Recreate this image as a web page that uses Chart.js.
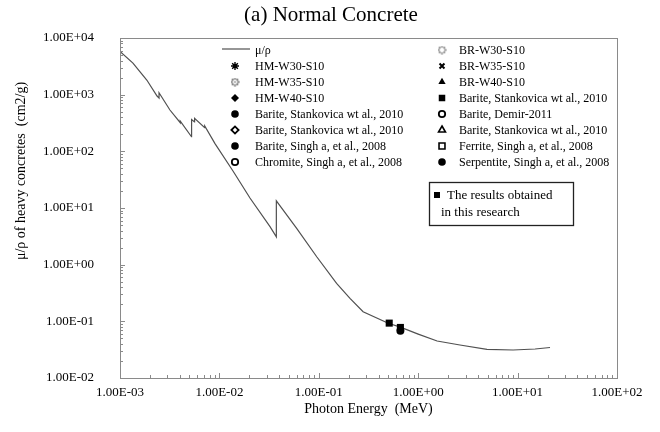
<!DOCTYPE html>
<html>
<head>
<meta charset="utf-8">
<script src="https://cdn.jsdelivr.net/npm/chart.js@4.4.1/dist/chart.umd.min.js"></script>
<style>
  html, body { margin: 0; padding: 0; background: #fff; }
</style>
</head>
<body>
<canvas id="myChart" width="660" height="432"></canvas>
<script>
// mass attenuation curve (MeV, cm2/g)
const energyMeV = [0.001, 0.00135, 0.00186, 0.00236, 0.00247, 0.00247, 0.00318, 0.00404, 0.00404,
  0.00524, 0.00525, 0.00562, 0.00563, 0.00711, 0.00712, 0.00903, 0.0137, 0.0203, 0.0323, 0.0374,
  0.0374, 0.0599, 0.0953, 0.151, 0.206, 0.279, 0.5, 0.662, 1.0, 1.55, 2.63, 4.92, 9.0, 15.0, 21.2];
const muRho = [5800, 3600, 1815, 946, 870, 1080, 536, 320, 342,
  181, 365, 330, 383, 262, 280, 137, 45, 15.0, 4.68, 3.1,
  13.4, 4.38, 1.38, 0.469, 0.255, 0.148, 0.0923, 0.079, 0.0596, 0.045, 0.0382, 0.0321, 0.0312, 0.0325, 0.0345];

const seriesNames = ["μ/ρ", "HM-W30-S10", "HM-W35-S10", "HM-W40-S10",
  "Barite, Stankovica wt al., 2010", "Barite, Stankovica wt al., 2010",
  "Barite, Singh a, et al., 2008", "Chromite, Singh a, et al., 2008",
  "BR-W30-S10", "BR-W35-S10", "BR-W40-S10", "Barite, Stankovica wt al., 2010",
  "Barite, Demir-2011", "Barite, Stankovica wt al., 2010",
  "Ferrite, Singh a, et al., 2008", "Serpentite, Singh a, et al., 2008"];

// measured points shown on this chart (index into seriesNames)
const pointSeriesIndex = [11, 4];
const pointEnergy = [[0.511, 0.662], [0.662]];
const pointMu = [[0.093, 0.078], [0.068]];

const xTickValues = [1e-3, 1e-2, 1e-1, 1, 10, 100];
const xTickLabels = ["1.00E-03", "1.00E-02", "1.00E-01", "1.00E+00", "1.00E+01", "1.00E+02"];
const yTickValues = [1e-2, 1e-1, 1, 10, 100, 1000, 10000];
const yTickLabels = ["1.00E-02", "1.00E-01", "1.00E+00", "1.00E+01", "1.00E+02", "1.00E+03", "1.00E+04"];

const serif = "'Liberation Serif', 'Times New Roman', serif";
const frameGray = "#8a8a8a";

function dotRing(dark) {
  const c = document.createElement("canvas");
  c.width = 9; c.height = 9;
  const g = c.getContext("2d");
  g.fillStyle = dark ? "#444" : "#666";
  for (let k = 0; k < 8; k++) {
    const a = k * Math.PI / 4;
    g.beginPath();
    g.arc(4.5 + 3.2 * Math.cos(a), 4.5 + 3.2 * Math.sin(a), 0.9, 0, Math.PI * 2);
    g.fill();
  }
  if (dark) { g.beginPath(); g.arc(4.5, 4.5, 0.8, 0, Math.PI * 2); g.fill(); }
  return c;
}

const markers = [
  null,
  { style: "star", r: 4, fill: "#000", bw: 1.4 },
  { style: dotRing(true), r: 4, fill: "#000", bw: 0 },
  { style: "rectRot", r: 4, fill: "#000", bw: 0 },
  { style: "circle", r: 3.8, fill: "#000", bw: 0 },
  { style: "rectRot", r: 3.6, fill: "#fff", bw: 1.8 },
  { style: "circle", r: 3.8, fill: "#000", bw: 0 },
  { style: "circle", r: 3.2, fill: "#fff", bw: 1.8 },
  { style: dotRing(false), r: 4, fill: "#000", bw: 0 },
  { style: "crossRot", r: 3.5, fill: "#000", bw: 2 },
  { style: "triangle", r: 4.2, fill: "#000", bw: 0 },
  { style: "rect", r: 4.6, fill: "#000", bw: 0 },
  { style: "circle", r: 3.2, fill: "#fff", bw: 1.8 },
  { style: "triangle", r: 4, fill: "#fff", bw: 1.6 },
  { style: "rect", r: 4.2, fill: "#fff", bw: 1.6 },
  { style: "circle", r: 3.8, fill: "#000", bw: 0 }
];

function buildTicks(majors) {
  const out = [];
  majors.forEach((v, i) => {
    out.push({ value: v, major: true });
    if (i < majors.length - 1) {
      for (let m = 2; m < 10; m++) out.push({ value: v * m, major: false });
    }
  });
  return out;
}

const datasets = seriesNames.map((name, i) => {
  if (i === 0) {
    return {
      type: "line", label: name, order: 2,
      data: energyMeV.map((e, k) => ({ x: e, y: muRho[k] })),
      borderColor: "#505050", borderWidth: 1.2, pointRadius: 0, tension: 0, fill: false
    };
  }
  const mk = markers[i];
  const p = pointSeriesIndex.indexOf(i);
  const data = p < 0 ? [] : pointEnergy[p].map((e, k) => ({ x: e, y: pointMu[p][k] }));
  return {
    type: "scatter", label: name, order: 1, data: data,
    pointStyle: mk.style, pointRadius: mk.style === "rect" ? 5 : 4,
    backgroundColor: mk.fill, borderColor: "#000", borderWidth: mk.bw
  };
});

const frameAndTicks = {
  id: "frameAndTicks",
  afterDraw(chart) {
    const { ctx, chartArea: a, scales } = chart;
    ctx.save();
    ctx.strokeStyle = frameGray;
    ctx.lineWidth = 1;
    scales.x.ticks.forEach(t => {
      const px = Math.round(scales.x.getPixelForValue(t.value)) + 0.5;
      const len = t.major ? 5 : 3;
      ctx.beginPath(); ctx.moveTo(px, a.bottom); ctx.lineTo(px, a.bottom - len); ctx.stroke();
    });
    scales.y.ticks.forEach(t => {
      const py = Math.round(scales.y.getPixelForValue(t.value)) + 0.5;
      const len = t.major ? 5 : 3;
      ctx.beginPath(); ctx.moveTo(a.left, py); ctx.lineTo(a.left + len, py); ctx.stroke();
    });
    ctx.strokeRect(Math.round(a.left) + 0.5, Math.round(a.top) + 0.5,
      Math.round(a.right - a.left), Math.round(a.bottom - a.top));
    ctx.restore();
  }
};

const textsAndLegend = {
  id: "textsAndLegend",
  afterDraw(chart) {
    const { ctx, chartArea: a } = chart;
    ctx.save();
    ctx.fillStyle = "#000";
    // title
    ctx.font = "21px " + serif;
    ctx.textAlign = "center";
    ctx.textBaseline = "middle";
    ctx.fillText("(a) Normal Concrete", 331, 15);
    // y title
    ctx.save();
    ctx.translate(21, 171);
    ctx.rotate(-Math.PI / 2);
    ctx.font = "14px " + serif;
    ctx.fillText("μ/ρ of heavy concretes  (cm2/g)", 0, 0);
    ctx.restore();

    // legend, two columns inside the plot
    ctx.font = "12px " + serif;
    ctx.textAlign = "left";
    chart.data.datasets.forEach((ds, i) => {
      const col = i < 8 ? 0 : 1;
      const row = i % 8;
      const mx = col ? a.left + 322 : a.left + 115;
      const tx = col ? a.left + 339 : a.left + 135;
      const y = a.top + 12 + row * 16;
      if (i === 0) {
        ctx.strokeStyle = "#505050";
        ctx.lineWidth = 1.2;
        ctx.beginPath(); ctx.moveTo(a.left + 102, y - 1); ctx.lineTo(a.left + 130, y - 1); ctx.stroke();
      } else {
        const mk = markers[i];
        ctx.fillStyle = mk.fill;
        ctx.strokeStyle = "#000";
        ctx.lineWidth = mk.bw;
        Chart.helpers.drawPoint(ctx, { pointStyle: mk.style, radius: mk.r, rotation: 0, borderWidth: mk.bw }, mx, y);
      }
      ctx.fillStyle = "#000";
      ctx.fillText(ds.label, tx, y + 1);
    });

    // note box
    ctx.strokeStyle = "#222";
    ctx.lineWidth = 1.3;
    ctx.strokeRect(429.5, 182.5, 144, 43);
    ctx.fillStyle = "#000";
    ctx.fillRect(434, 192, 6, 6);
    ctx.font = "13px " + serif;
    ctx.fillText("The results obtained", 447, 196);
    ctx.fillText("in this research", 441, 213);
    ctx.restore();
  }
};

new Chart(document.getElementById("myChart"), {
  data: { datasets: datasets },
  options: {
    responsive: false,
    animation: false,
    devicePixelRatio: 1,
    layout: { padding: { top: 38, right: 43, left: 0, bottom: 0 } },
    plugins: { legend: { display: false }, tooltip: { enabled: false }, title: { display: false } },
    scales: {
      x: {
        type: "logarithmic", min: 1e-3, max: 100,
        afterBuildTicks: (s) => { s.ticks = buildTicks(xTickValues); },
        afterFit: (s) => { s.height = 54; },
        grid: { display: false },
        border: { display: false },
        ticks: {
          autoSkip: false, maxRotation: 0, minRotation: 0, padding: -1,
          color: "#000", font: { family: serif, size: 13 },
          callback: (v) => { const i = xTickValues.indexOf(v); return i >= 0 ? xTickLabels[i] : ""; }
        },
        title: {
          display: true, text: "Photon Energy  (MeV)", color: "#000",
          font: { family: serif, size: 14 }, padding: { top: 0, bottom: 14 }
        }
      },
      y: {
        type: "logarithmic", min: 1e-2, max: 1e4,
        afterBuildTicks: (s) => { s.ticks = buildTicks(yTickValues); },
        afterFit: (s) => { s.width = 120; },
        grid: { display: false },
        border: { display: false },
        ticks: {
          autoSkip: false, padding: 18,
          color: "#000", font: { family: serif, size: 13 },
          callback: (v) => { const i = yTickValues.indexOf(v); return i >= 0 ? yTickLabels[i] : ""; }
        }
      }
    }
  },
  plugins: [frameAndTicks, textsAndLegend]
});
</script>
</body>
</html>
